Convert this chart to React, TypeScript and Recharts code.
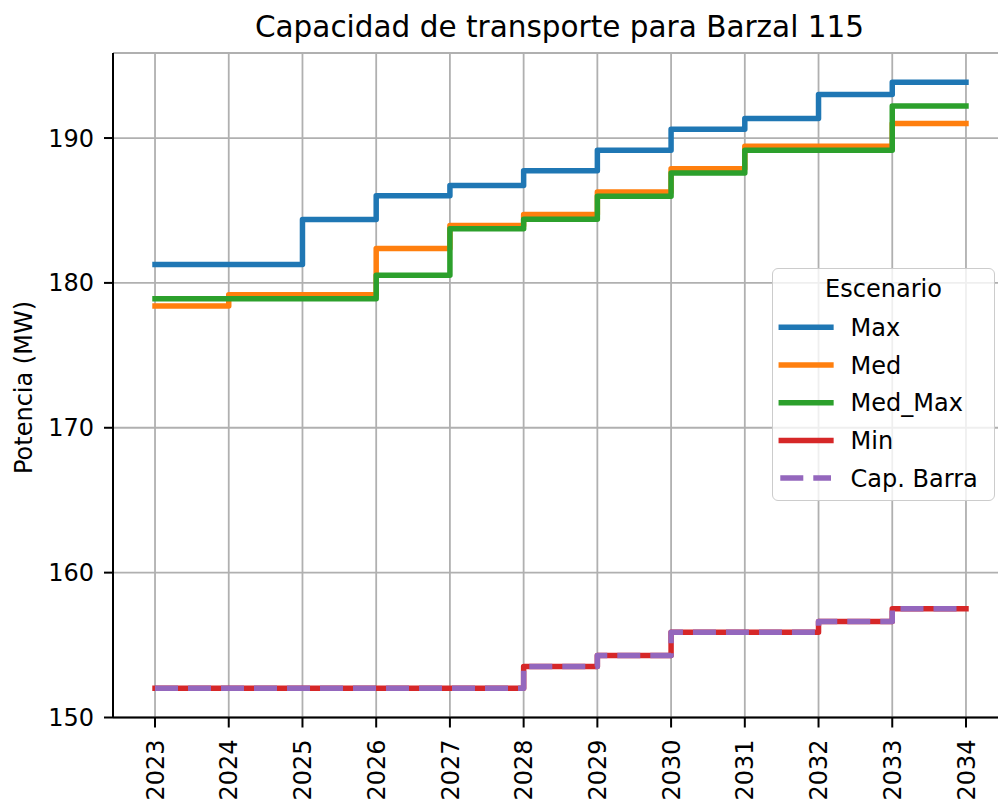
import React from 'react';
import { LineChart, Line, XAxis, YAxis, CartesianGrid, Legend } from 'recharts';

// años del horizonte de planificación
const years = [2023, 2024, 2025, 2026, 2027, 2028, 2029, 2030, 2031, 2032, 2033, 2034];

// capacidad por escenario (MW)
const maxVals = [181.27, 181.27, 184.38, 186.02, 186.73, 187.74, 189.15, 190.6, 191.34, 193.0, 193.85, 193.85];
const medVals = [178.41, 179.19, 179.19, 182.37, 183.96, 184.72, 186.27, 187.88, 189.43, 189.43, 191.0, 191.0];
const medMaxVals = [178.91, 178.91, 178.91, 180.53, 183.73, 184.4, 185.99, 187.58, 189.15, 189.15, 192.21, 192.21];
const minVals = [152.02, 152.02, 152.02, 152.02, 152.02, 153.52, 154.28, 155.89, 155.89, 156.63, 157.51, 157.51];
const capBarraVals = [152.02, 152.02, 152.02, 152.02, 152.02, 153.52, 154.28, 155.89, 155.89, 156.63, 157.51, 157.51];

const yTicks = [150, 160, 170, 180, 190];

const data = years.map((year, i) => ({
  year,
  Max: maxVals[i],
  Med: medVals[i],
  Med_Max: medMaxVals[i],
  Min: minVals[i],
  'Cap. Barra': capBarraVals[i],
}));

const series = [
  { key: 'Max', color: '#1f77b4', dash: undefined as string | undefined },
  { key: 'Med', color: '#ff7f0e', dash: undefined },
  { key: 'Med_Max', color: '#2ca02c', dash: undefined },
  { key: 'Min', color: '#d62728', dash: undefined },
  { key: 'Cap. Barra', color: '#9467bd', dash: '23 10' },
];

const FONT = '"DejaVu Sans", sans-serif';
const LW = 5.5;

const XTick = ({ x, y, payload }: any) => (
  <g transform={`translate(${x},${y})`}>
    <text transform="rotate(-90)" x={0} y={0} dy="0.36em" textAnchor="end" fontSize={24} fill="#000" fontFamily={FONT}>
      {payload.value}
    </text>
  </g>
);

const LegendBox = () => (
  <div
    style={{
      width: 223,
      height: 233,
      boxSizing: 'border-box',
      border: '1.5px solid #cccccc',
      borderRadius: 6,
      background: 'rgba(255,255,255,0.8)',
      position: 'relative',
    }}
  >
    <svg width={223} height={233} style={{ position: 'absolute', left: -1.5, top: -1.5 }}>
      <text x={111.5} y={29} textAnchor="middle" fontSize={24} fill="#000" fontFamily={FONT}>
        Escenario
      </text>
      {series.map((s, i) => {
        const cy = 59.3 + i * 37.7;
        return (
          <g key={s.key}>
            <line
              x1={s.dash ? 8.3 : 9.3}
              x2={s.dash ? 59 : 58.9}
              y1={cy}
              y2={cy}
              stroke={s.color}
              strokeWidth={LW}
              strokeDasharray={s.dash}
              strokeLinecap={s.dash ? 'butt' : 'square'}
            />
            <text x={78.6} y={cy + 8.7} fontSize={24} fill="#000" fontFamily={FONT}>
              {s.key}
            </text>
          </g>
        );
      })}
    </svg>
  </div>
);

export default function App() {
  return (
    <div style={{ position: 'absolute', left: 0, top: 0, width: 998, height: 802, overflow: 'hidden', background: '#fff', fontFamily: FONT }}>
      <LineChart width={1020} height={802} data={data} margin={{ top: 53, right: 12, bottom: 0, left: 0 }}>
        <CartesianGrid stroke="#b0b0b0" strokeWidth={1.8} />
        <XAxis
          dataKey="year"
          type="number"
          domain={[2022.43, 2034.57]}
          ticks={years}
          allowDataOverflow
          height={84.5}
          tickSize={10}
          tickMargin={12}
          tick={<XTick />}
          axisLine={{ stroke: '#000', strokeWidth: 2 }}
          tickLine={{ stroke: '#000', strokeWidth: 2 }}
        />
        <XAxis
          xAxisId="top"
          orientation="top"
          dataKey="year"
          type="number"
          domain={[2022.43, 2034.57]}
          allowDataOverflow
          height={0}
          tick={false}
          tickLine={false}
          axisLine={{ stroke: '#000', strokeWidth: 2 }}
        />
        <YAxis
          type="number"
          domain={[150, 195.87]}
          ticks={yTicks}
          allowDataOverflow
          width={113}
          tickSize={9}
          tickMargin={10}
          tick={{ fill: '#000', fontSize: 24, fontFamily: FONT }}
          axisLine={{ stroke: '#000', strokeWidth: 2 }}
          tickLine={{ stroke: '#000', strokeWidth: 2 }}
        />
        {series.map((s) => (
          <Line
            key={s.key}
            type="stepAfter"
            dataKey={s.key}
            name={s.key}
            stroke={s.color}
            strokeWidth={LW}
            strokeDasharray={s.dash}
            strokeLinecap={s.dash ? 'butt' : 'square'}
            strokeLinejoin="round"
            dot={false}
            activeDot={false}
            isAnimationActive={false}
          />
        ))}
        <Legend
          layout="vertical"
          align="center"
          verticalAlign="middle"
          content={<LegendBox />}
          wrapperStyle={{ left: 772, top: 268, width: 223, height: 233 }}
        />
      </LineChart>
      <svg width={998} height={802} style={{ position: 'absolute', left: 0, top: 0, pointerEvents: 'none' }}>
        <text x={559.5} y={37} textAnchor="middle" fontSize={29.5} fill="#000" fontFamily={FONT}>
          Capacidad de transporte para Barzal 115
        </text>
        <text transform="translate(31.5,387.5) rotate(-90)" textAnchor="middle" fontSize={24} fill="#000" fontFamily={FONT}>
          Potencia (MW)
        </text>
      </svg>
    </div>
  );
}
